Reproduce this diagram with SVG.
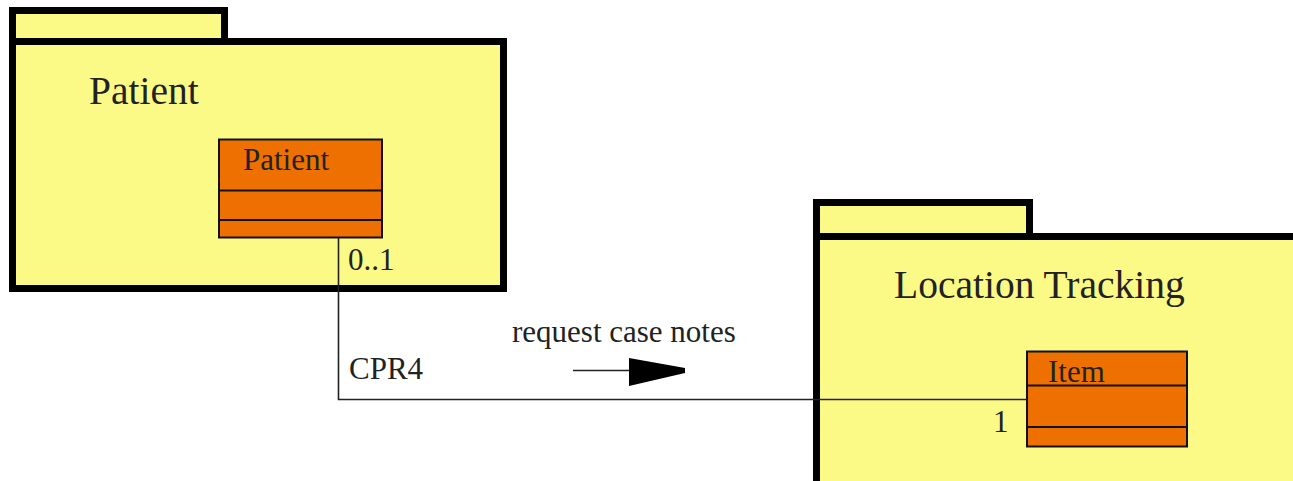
<svg xmlns="http://www.w3.org/2000/svg" width="1293" height="481" viewBox="0 0 1293 481">
  <style>
    .pkg { fill: #FCFA86; stroke: #000; stroke-width: 7; }
    .cls { fill: #EE7000; stroke: #111; stroke-width: 2; }
    .div { stroke: #111; stroke-width: 2; fill: none; }
    .pkg-name { font-family: "Liberation Serif", "Times New Roman", serif; font-size: 39.5px; fill: #222; }
    .txt { font-family: "Liberation Serif", "Times New Roman", serif; font-size: 31px; fill: #222; }
    .wire { stroke: #222; stroke-width: 1.6; fill: none; }
  </style>

  <rect width="1293" height="481" fill="#fff"/>

  <!-- Patient package -->
  <g id="pkg-patient">
    <rect class="pkg" x="12.5" y="10.5" width="212" height="31"/>
    <rect class="pkg" x="12.5" y="41.5" width="491" height="247"/>
    <text class="pkg-name" x="89" y="104">Patient</text>
  </g>

  <!-- Location Tracking package -->
  <g id="pkg-location-tracking">
    <rect class="pkg" x="816.5" y="202.5" width="213" height="34"/>
    <rect class="pkg" x="816.5" y="236.5" width="500" height="260"/>
    <text class="pkg-name" x="894" y="298">Location Tracking</text>
  </g>

  <!-- Patient class -->
  <g id="cls-patient">
    <rect class="cls" x="219" y="139.5" width="163" height="98"/>
    <line class="div" x1="219" y1="190.5" x2="382" y2="190.5"/>
    <line class="div" x1="219" y1="220" x2="382" y2="220"/>
    <text class="txt" x="243" y="170">Patient</text>
  </g>

  <!-- Item class -->
  <g id="cls-item">
    <rect class="cls" x="1027" y="351.5" width="160" height="95"/>
    <line class="div" x1="1027" y1="385.5" x2="1187" y2="385.5"/>
    <line class="div" x1="1027" y1="427" x2="1187" y2="427"/>
    <text class="txt" x="1048" y="382">Item</text>
  </g>

  <!-- Association CPR4 -->
  <g id="connectors">
    <polyline class="wire" points="338.5,238 338.5,399.5 1027,399.5"/>
    <text class="txt" x="348" y="270">0..1</text>
    <text class="txt" x="993" y="432">1</text>
    <text class="txt" x="349" y="379">CPR4</text>
    <text class="txt" x="512" y="342">request case notes</text>
    <line class="wire" x1="573" y1="370.5" x2="630" y2="370.5"/>
    <polygon points="629,358 685,368 685,373 629,386" fill="#000"/>
  </g>
</svg>
